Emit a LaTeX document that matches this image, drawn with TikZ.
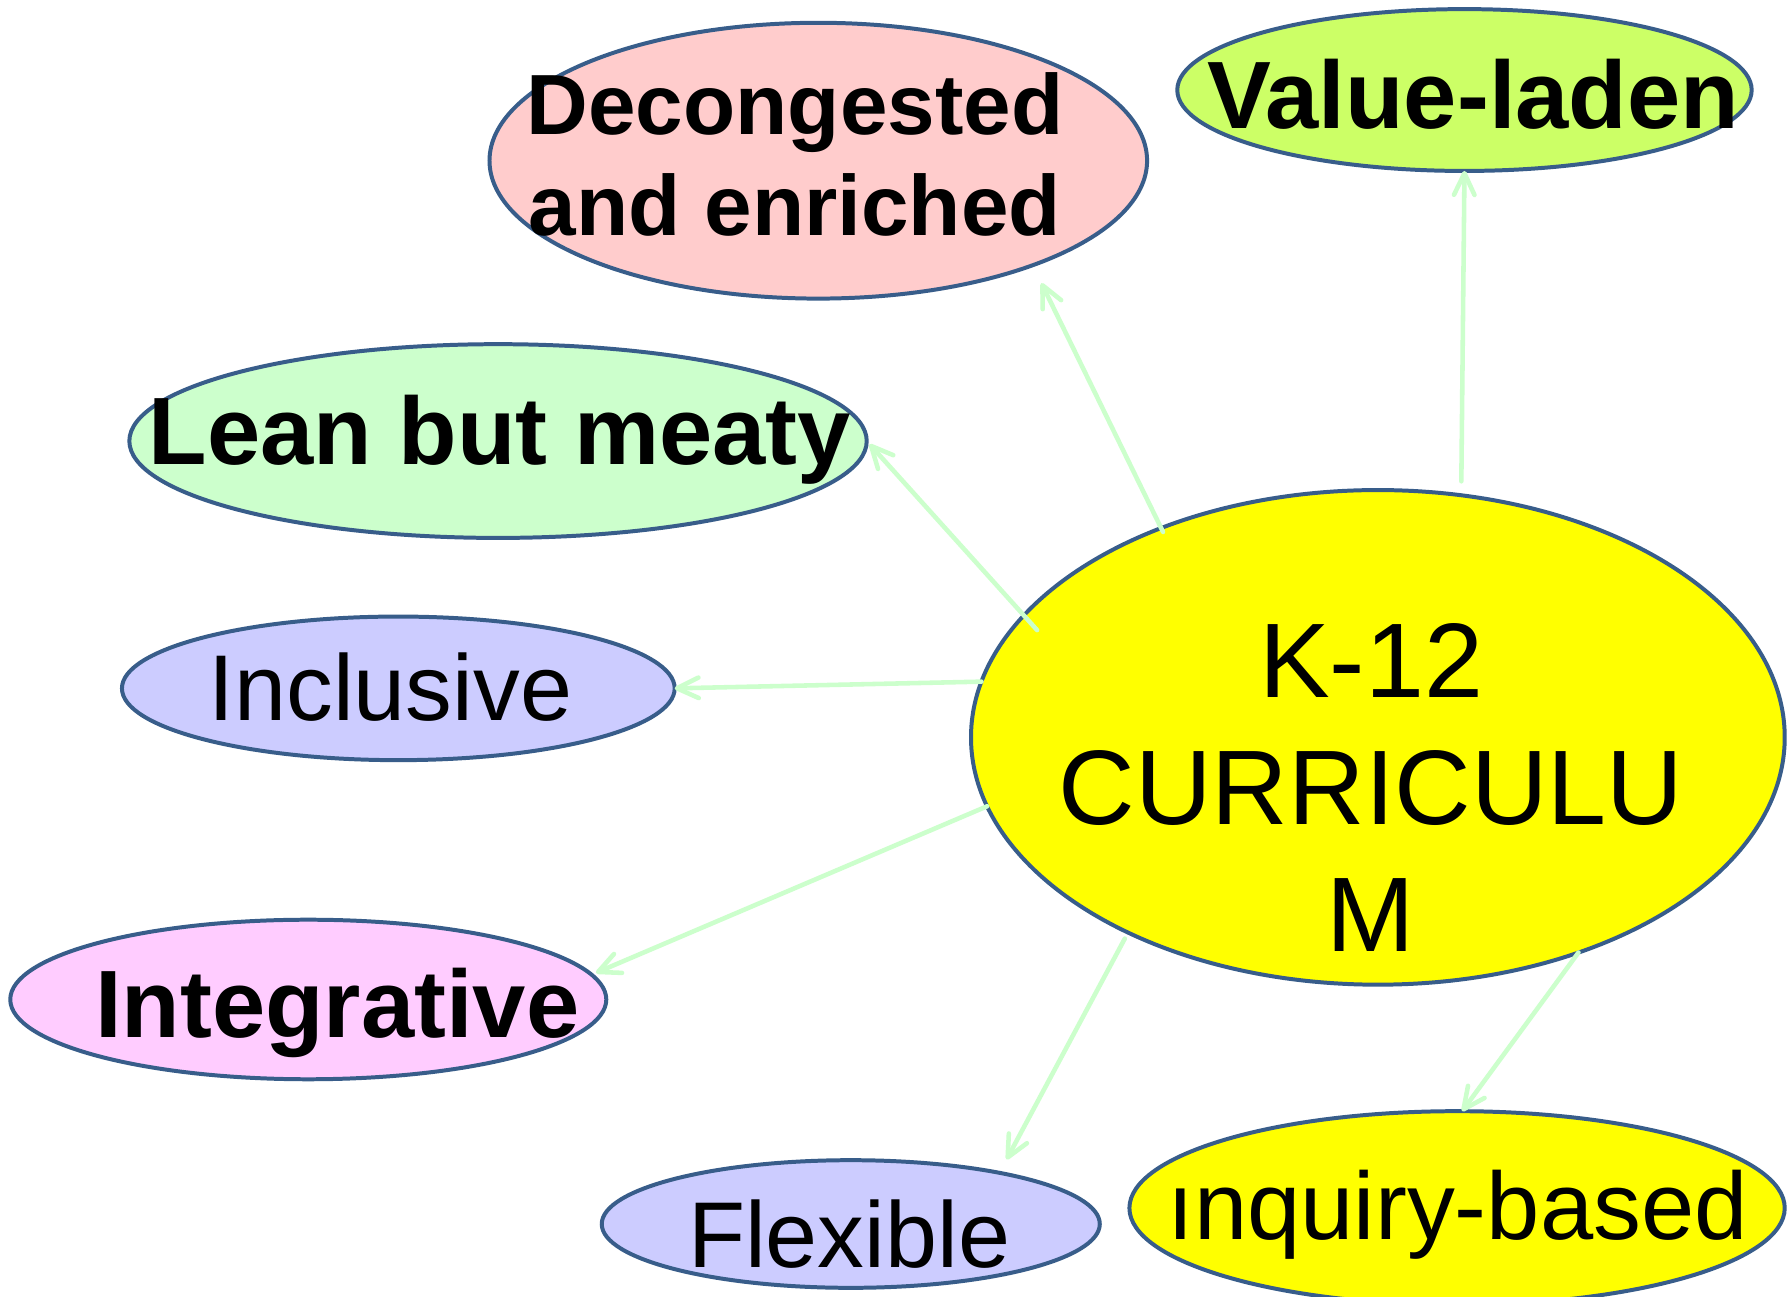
\documentclass[tikz,border=0pt]{standalone}
\usepackage{fontspec}
\setmainfont{Liberation Sans}
\usetikzlibrary{arrows.meta,shapes.geometric}
\definecolor{bordc}{HTML}{385D8A}
\definecolor{arrowc}{HTML}{CCFFCC}
\definecolor{kyellow}{HTML}{FFFF00}
\definecolor{dpink}{HTML}{FFCCCC}
\definecolor{vgreen}{HTML}{CCFF66}
\definecolor{lgreen}{HTML}{CCFFCC}
\definecolor{ipurple}{HTML}{CCCCFF}
\definecolor{gpink}{HTML}{FFCCFF}
\newcommand\ztext[3]{\makebox[0pt]{\hspace*{#1}\raisebox{#2}[0pt][0pt]{#3}}}
\newcommand\zlines[1]{\begin{tabular}[t]{@{}c@{}}#1\end{tabular}}
\begin{document}
\begin{tikzpicture}[x=0.5pt,y=-0.5pt,
  bub/.style={ellipse, draw=bordc, line width=1.75pt, inner sep=0pt, outer sep=0pt},
  conn/.style={draw=arrowc, line width=2pt, line cap=round,
    -{Straight Barb[length=9.5pt,width=9pt,round]}}]
\clip (0,0) rectangle (1568,1138);
\fill[white] (0,0) rectangle (1568,1138);

\node[bub, fill=kyellow, minimum width=357pt, minimum height=217pt,
  font=\fontsize{46.5pt}{55.75pt}\selectfont] (K) at (1209,647)
  {\ztext{-6pt}{17.5pt}{\zlines{K-12\\CURRICULU\\M}}};
\node[bub, fill=dpink, minimum width=288.5pt, minimum height=121pt,
  font=\fontsize{37.5pt}{44.5pt}\selectfont\bfseries] (D) at (718,141)
  {\ztext{-20.5pt}{11.5pt}{\zlines{Decongested\\and enriched}}};
\node[bub, fill=vgreen, minimum width=252pt, minimum height=71pt,
  font=\fontsize{42pt}{50pt}\selectfont\bfseries] (V) at (1285,79)
  {\ztext{7.5pt}{-17pt}{Value-laden}};
\node[bub, fill=lgreen, minimum width=323.5pt, minimum height=85pt,
  font=\fontsize{42pt}{50pt}\selectfont\bfseries] (L) at (437,387)
  {\ztext{1.5pt}{-10.5pt}{Lean but meaty}};
\node[bub, fill=ipurple, minimum width=242.5pt, minimum height=63pt,
  font=\fontsize{41pt}{49pt}\selectfont] (I) at (349.5,604)
  {\ztext{-7pt}{-14pt}{Inclusive}};
\node[bub, fill=gpink, minimum width=261.5pt, minimum height=70pt,
  font=\fontsize{42pt}{50pt}\selectfont\bfseries] (G) at (270.5,877)
  {\ztext{25.5pt}{-16.5pt}{Integrative}};
\node[bub, fill=ipurple, minimum width=218.5pt, minimum height=56pt,
  font=\fontsize{41pt}{49pt}\selectfont] (F) at (746.5,1074)
  {\ztext{-1.5pt}{-19pt}{Flexible}};
\node[bub, fill=kyellow, minimum width=287.5pt, minimum height=85pt,
  font=\fontsize{42pt}{50pt}\selectfont] (Q) at (1278.5,1060)
  {\ztext{0.5pt}{-14pt}{ınquiry-based}};

\draw[conn, shorten <=-1.9pt, shorten >=8.75pt] (K.136.5) -- (D.-26.8);
\draw[conn, shorten <=6.15pt] (K.71.6) -- (V.-90);
\draw[conn, shorten <=-8.65pt, shorten >=1.9pt] (K.161.4) -- (L.0);
\draw[conn] (K.172) -- (I.0);
\draw[conn, shorten >=2.1pt] (K.190.5) -- (G.5.95);
\draw[conn, shorten <=3pt, shorten >=6.65pt] (K.218.9) -- (F.19.4);
\draw[conn] (K.313.1) -- (Q.87.6);
\end{tikzpicture}
\end{document}
